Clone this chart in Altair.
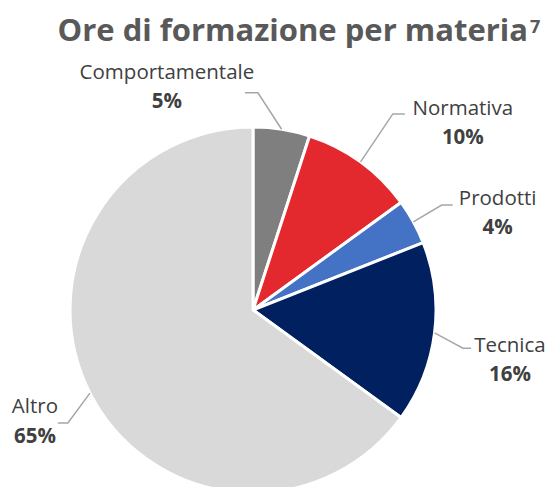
import math
import altair as alt
import pandas as pd

# ---- data ----
categories = ["Comportamentale", "Normativa", "Prodotti", "Tecnica", "Altro"]
values = [5, 10, 4, 16, 65]
pct_labels = ["5%", "10%", "4%", "16%", "65%"]
colors = ["#7f7f7f", "#e3292d", "#4472c4", "#002060", "#d9d9d9"]
title_main = "Ore di formazione per materia"
title_sup = "7"

# ---- layout ----
W, H = 539, 479
CX, CY = 245, 302      # pie centre in view px
R = 183                # pie radius px
# per-label leader layout: elbow radius factor, elbow angle offset (deg),
# horizontal tail (px), text offset from elbow (dx, name baseline dy, pct baseline dy) px
elbow_r = [1.187, 1.316, 1.18, 1.166, 1.185]
elbow_da = [-7.7, -0.5, -0.3, 3.1, -4.4]
tail_px = [-13, 12, 11, 8, -10]
text_dx = [-91, 70, 56, 47, -33]
name_dy = [-14, 1.5, 0, 4, -9.5]
pct_dy = [15.5, 30, 29, 33, 20.5]

xdom = [-CX / R, (W - CX) / R]
ydom = [-(H - CY) / R, CY / R]
xs = alt.Scale(domain=xdom, nice=False, zero=False)
ys = alt.Scale(domain=ydom, nice=False, zero=False)

total = sum(values)
pie = pd.DataFrame({"cat": categories, "val": values, "idx": range(len(values))})

lines, texts = [], []
cum = 0
for i, v in enumerate(values):
    mid = (cum + v / 2) / total * 360
    cum += v
    a0 = math.radians(mid)
    a1 = math.radians(mid + elbow_da[i])
    p0 = (math.sin(a0), math.cos(a0))
    p1 = (elbow_r[i] * math.sin(a1), elbow_r[i] * math.cos(a1))
    p2 = (p1[0] + tail_px[i] / R, p1[1])
    for k, p in enumerate([p0, p1, p2]):
        lines.append({"cat": categories[i], "k": k, "x": p[0], "y": p[1]})
    tx = p1[0] + text_dx[i] / R
    texts.append({"t": categories[i], "x": tx, "y": p1[1] - name_dy[i] / R, "w": "normal"})
    texts.append({"t": pct_labels[i], "x": tx, "y": p1[1] - pct_dy[i] / R, "w": "bold"})

lines = pd.DataFrame(lines)
texts = pd.DataFrame(texts)

FONT = "Open Sans"

arcs = alt.Chart(pie).mark_arc(radius=R, stroke="white", strokeWidth=3, x=CX, y=CY).encode(
    theta=alt.Theta("val:Q", stack=True),
    color=alt.Color("cat:N", scale=alt.Scale(domain=categories, range=colors), legend=None),
    order=alt.Order("idx:Q"),
)

leaders = alt.Chart(lines).mark_line(color="#a6a6a6", strokeWidth=1.5).encode(
    x=alt.X("x:Q", scale=xs, axis=None),
    y=alt.Y("y:Q", scale=ys, axis=None),
    detail="cat:N",
    order="k:Q",
)

names = alt.Chart(texts[texts.w == "normal"]).mark_text(
    font=FONT, fontSize=20.5, color="#404040", baseline="alphabetic", align="center"
).encode(x=alt.X("x:Q", scale=xs, axis=None), y=alt.Y("y:Q", scale=ys, axis=None), text="t:N")

pcts = alt.Chart(texts[texts.w == "bold"]).mark_text(
    font=FONT, fontSize=20.5, fontWeight="bold", color="#404040", baseline="alphabetic", align="center"
).encode(x=alt.X("x:Q", scale=xs, axis=None), y=alt.Y("y:Q", scale=ys, axis=None), text="t:N")

title = alt.Chart(pd.DataFrame({"t": [title_main]})).mark_text(
    font=FONT, fontSize=31, fontWeight="bold", color="#595959", baseline="alphabetic", align="right",
    x=520, y=33
).encode(text="t:N")

title_s = alt.Chart(pd.DataFrame({"t": [title_sup]})).mark_text(
    font=FONT, fontSize=18, fontWeight="bold", color="#595959", baseline="alphabetic", align="left",
    x=522, y=25
).encode(text="t:N")

chart = alt.layer(arcs, leaders, names, pcts, title, title_s).resolve_scale(color="independent").properties(
    width=W, height=H, padding=0, autosize=alt.AutoSizeParams(type="none")
).configure_view(stroke=None)

chart.save("out.html", embed_options={"renderer": "svg", "actions": False})
